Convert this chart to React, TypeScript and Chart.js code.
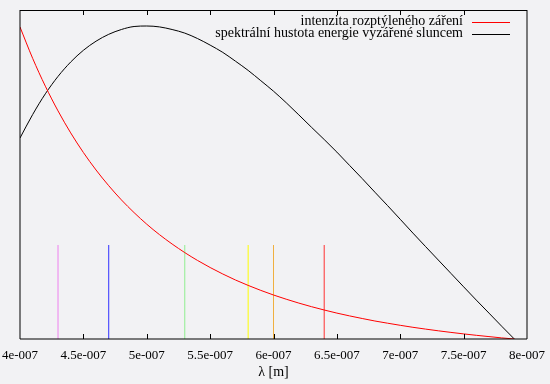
import React, { useEffect, useRef } from "react";
import { Chart, registerables } from "chart.js";

Chart.register(...registerables);

// wavelength samples (nm) on the x axis (axis labelled in metres)
const wavelengthsNm = [
  400, 410, 420, 430, 440, 450, 460, 470, 480, 490,
  500, 510, 520, 530, 540, 550, 560, 570, 580, 590,
  600, 610, 620, 630, 640, 650, 660, 670, 680, 690,
  700, 710, 720, 730, 740, 750, 760, 770, 780, 790,
];

// intenzita rozptýleného záření (arbitrary units)
const scatteredIntensity = [
  312, 280.6, 252.8, 228.1, 206.1, 186.5, 169.0, 153.3, 139.1, 126.4,
  114.8, 104.4, 95.0, 86.4, 78.6, 71.5, 65.0, 59.0, 53.6, 48.6,
  44.0, 39.8, 35.9, 32.3, 29.0, 25.9, 23.1, 20.5, 18.0, 15.8,
  13.7, 11.7, 9.9, 8.2, 6.6, 5.1, 3.7, 2.4, 1.1, 0,
];

// spektrální hustota energie vyzářené sluncem (arbitrary units)
const solarSpectralDensity = [
  201, 224.5, 245.2, 262.6, 277.0, 288.7, 297.8, 304.7, 309.5, 312.5,
  313.0, 312.1, 309.5, 305.9, 300.5, 293.9, 286.6, 277.8, 268.6, 258.3,
  247.8, 236.3, 224.1, 211.7, 199.5, 186.9, 173.6, 160.4, 146.8, 133.4,
  119.7, 105.9, 92.4, 79.0, 65.6, 52.2, 38.9, 25.9, 12.8, 0,
];

// colour marker lines (nm) and their height (same units)
const spectralLinesNm = [430, 470, 530, 580, 600, 640];
const spectralLineHeight = 94;
const spectralLineColors = ["#ee82ee", "#3030ff", "#90ee90", "#ffff00", "#f0b040", "#ff3030"];

const xTickLabels = [
  "4e-007", "4.5e-007", "5e-007", "5.5e-007", "6e-007",
  "6.5e-007", "7e-007", "7.5e-007", "8e-007",
];

const seriesLabels = ["intenzita rozptýleného záření", "spektrální hustota energie vyzářené sluncem"];

const FONT = "Liberation Serif";

const framePlugin = {
  id: "frameAndLegend",
  afterDraw(chart: any) {
    const { ctx, chartArea } = chart;
    const { left, right, top, bottom } = chartArea;
    const xs = chart.scales.x;
    ctx.save();
    ctx.strokeStyle = "#000";
    ctx.lineWidth = 1;
    // ticks (inward, bottom and top)
    xs.ticks.forEach((t: any, i: number) => {
      if (i === 0 || i === xs.ticks.length - 1) return;
      const px = Math.round(xs.getPixelForValue(t.value)) + 0.5;
      ctx.beginPath();
      ctx.moveTo(px, bottom);
      ctx.lineTo(px, bottom - 5);
      ctx.moveTo(px, top);
      ctx.lineTo(px, top + 5);
      ctx.stroke();
    });
    // border
    ctx.beginPath();
    ctx.moveTo(left, top + 0.5);
    ctx.lineTo(right, top + 0.5);
    ctx.moveTo(left, top);
    ctx.lineTo(left, bottom);
    ctx.lineTo(right, bottom);
    ctx.lineTo(right, top);
    ctx.stroke();

    // legend (gnuplot style: text then sample)
    ctx.font = '14px "Liberation Serif"';
    ctx.textAlign = "right";
    ctx.textBaseline = "alphabetic";
    const legendColors = ["#ff0000", "#000000"];
    const baselines = [25, 37];
    const sampleY = [22.5, 34.5];
    seriesLabels.forEach((lab, i) => {
      ctx.fillStyle = "#000";
      ctx.fillText(lab, 463, baselines[i]);
      ctx.strokeStyle = legendColors[i];
      ctx.beginPath();
      ctx.moveTo(472, sampleY[i]);
      ctx.lineTo(510, sampleY[i]);
      ctx.stroke();
    });
    ctx.restore();
  },
};

export default function App() {
  const ref = useRef<HTMLCanvasElement>(null);
  useEffect(() => {
    if (!ref.current) return;
    const lineSets = spectralLinesNm.map((nm, i) => ({
      label: `line ${nm}`,
      data: [
        { x: nm, y: 0 },
        { x: nm, y: spectralLineHeight },
      ],
      borderColor: spectralLineColors[i],
      borderWidth: 1,
      pointRadius: 0,
      order: 3,
    }));
    const chart = new Chart(ref.current, {
      type: "line",
      data: {
        datasets: [
          {
            label: seriesLabels[0],
            data: wavelengthsNm.map((x, i) => ({ x, y: scatteredIntensity[i] })),
            borderColor: "#ff0000",
            borderWidth: 1,
            pointRadius: 0,
            cubicInterpolationMode: "monotone",
            order: 1,
          },
          {
            label: seriesLabels[1],
            data: wavelengthsNm.map((x, i) => ({ x, y: solarSpectralDensity[i] })),
            borderColor: "#000000",
            borderWidth: 1,
            pointRadius: 0,
            cubicInterpolationMode: "monotone",
            order: 2,
          },
          ...lineSets,
        ],
      },
      options: {
        responsive: false,
        animation: false,
        devicePixelRatio: 1,
        layout: { padding: { left: 20, right: 23, top: 10, bottom: 0 } },
        plugins: { legend: { display: false }, tooltip: { enabled: false } },
        scales: {
          x: {
            type: "linear",
            min: 400,
            max: 800,
            grid: { display: false, drawTicks: true, tickLength: 9 },
            border: { display: false },
            afterFit: (scale: any) => {
              scale.height = 45;
            },
            ticks: {
              stepSize: 50,
              autoSkip: false,
              maxRotation: 0,
              padding: 0,
              color: "#000",
              font: { family: FONT, size: 13 },
              callback: (_v: any, i: number) => xTickLabels[i],
            },
            title: {
              display: true,
              text: "λ [m]",
              color: "#000",
              font: { family: FONT, size: 14 },
              padding: { top: 3, bottom: 3 },
            },
          },
          y: {
            display: false,
            min: 0,
            max: 329,
          },
        },
      },
      plugins: [framePlugin],
    } as any);
    return () => chart.destroy();
  }, []);
  return (
    <div style={{ position: "fixed", left: 0, top: 0, width: 550, height: 384, background: "#f2f2f4" }}>
      <canvas ref={ref} width={550} height={384} style={{ width: 550, height: 384 }} />
    </div>
  );
}
